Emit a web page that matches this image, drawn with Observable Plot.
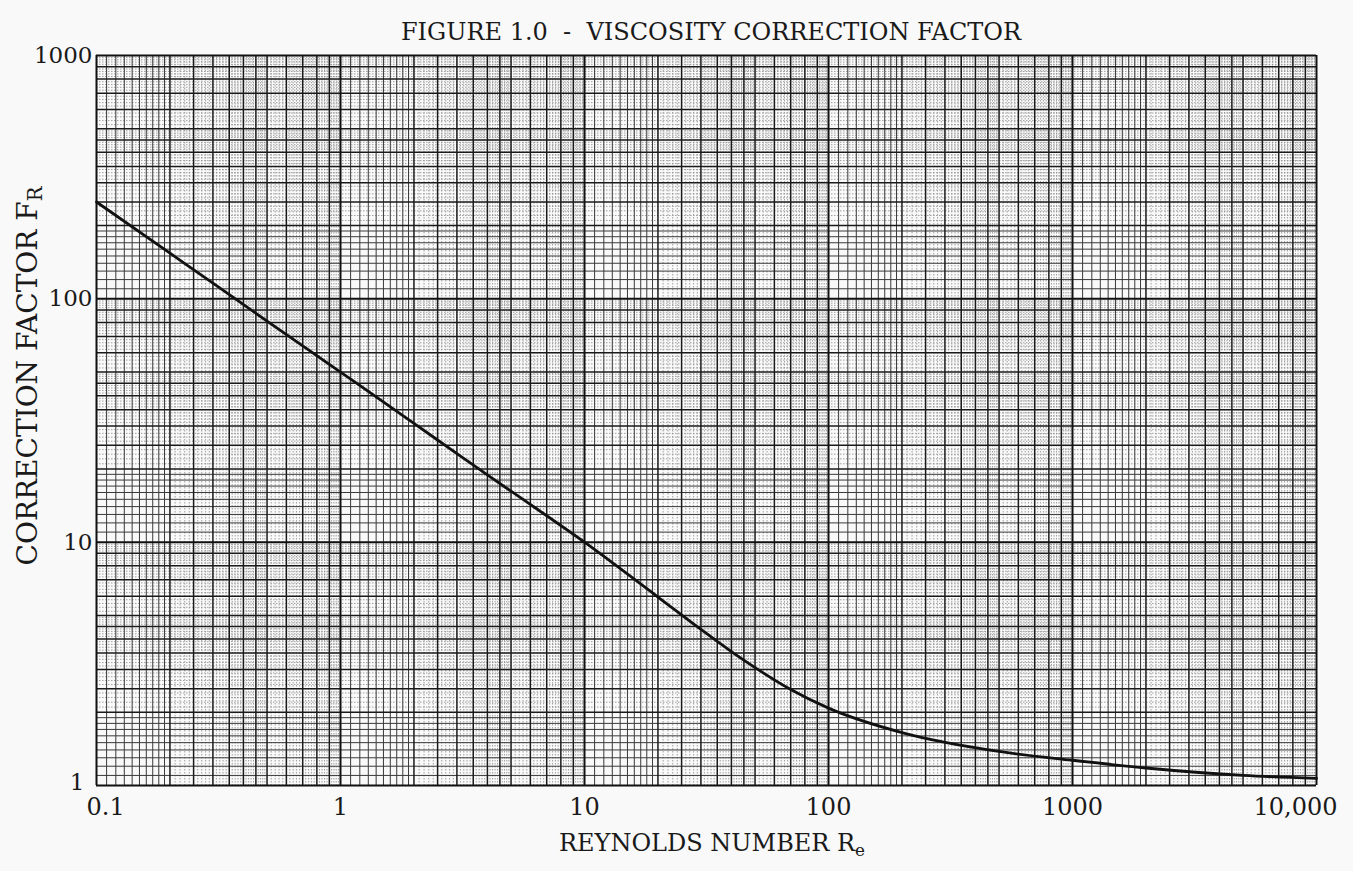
<!DOCTYPE html>
<html><head><meta charset="utf-8">
<script src="https://cdn.jsdelivr.net/npm/d3@7"></script>
<script src="https://cdn.jsdelivr.net/npm/@observablehq/plot@0.6"></script>
<style>
body{margin:0;background:#f9f9f9;}
#wrap{position:relative;width:1353px;height:871px;font-family:"DejaVu Serif",serif;color:#1a1a1a;overflow:hidden;}
#chart{position:absolute;left:0;top:0;}
#title{position:absolute;left:0;width:1422px;top:18px;text-align:center;font-size:24px;white-space:nowrap;}
#xlabel{position:absolute;left:712px;top:843px;transform:translate(-50%,-50%);font-size:24px;white-space:nowrap;}
#ylabel{position:absolute;left:27px;top:376px;transform:translate(-50%,-50%) rotate(-90deg);font-size:28px;white-space:nowrap;}
sub{font-size:70%;vertical-align:-0.3em;line-height:0;}
</style></head>
<body>
<div id="wrap">
  <div id="chart"></div>
  <div id="title">FIGURE 1.0&nbsp; - &nbsp;VISCOSITY CORRECTION FACTOR</div>
  <div id="xlabel">REYNOLDS NUMBER R<sub>e</sub></div>
  <div id="ylabel">CORRECTION FACTOR F<sub>R</sub></div>
</div>
<script>
// Curve data (Reynolds number vs correction factor)
const reynolds = [0.1, 0.2, 0.3, 0.5, 1, 2, 3, 5, 10, 20, 30, 40, 50, 70, 100, 200, 500, 1000, 2000, 5000, 10000];
const factor   = [250, 154, 116, 81, 50, 30.8, 23.1, 16.2, 10, 5.95, 4.38, 3.55, 3.05, 2.48, 2.08, 1.65, 1.38, 1.27, 1.18, 1.1, 1.07];

// Axis ticks and labels
const xTicks = [0.1, 1, 10, 100, 1000, 10000];
const xTickLabels = ["0.1", "1", "10", "100", "1000", "10,000"];
const yTicks = [1, 10, 100, 1000];
const yTickLabels = ["1", "10", "100", "1000"];

// Log-paper grid: decade starts and multipliers inside a decade
const xDecades = [0.1, 1, 10, 100, 1000];
const yDecades = [1, 10, 100];
const darkMult = [2, 2.5, 3, 3.5, 4, 4.5, 5, 6, 7, 8, 9];
const midMult = [1.1, 1.2, 1.3, 1.4, 1.5, 1.6, 1.7, 1.8, 1.9];
const fineMult = [2.1, 2.2, 2.3, 2.4, 2.6, 2.7, 2.8, 2.9, 3.1, 3.2, 3.3, 3.4, 3.6, 3.7, 3.8, 3.9,
                  4.1, 4.2, 4.3, 4.4, 4.6, 4.7, 4.8, 4.9, 5.2, 5.4, 5.6, 5.8, 6.2, 6.4, 6.6, 6.8,
                  7.2, 7.4, 7.6, 7.8, 8.2, 8.4, 8.6, 8.8, 9.2, 9.4, 9.6, 9.8];

const data = reynolds.map((r, i) => ({re: r, fr: factor[i]}));
const expand = (decs, mult) => decs.flatMap(d => mult.map(m => d * m));
const xLabelMap = new Map(xTicks.map((t, i) => [t, xTickLabels[i]]));
const yLabelMap = new Map(yTicks.map((t, i) => [t, yTickLabels[i]]));
const xFmt = d => xLabelMap.get(d);
const yFmt = d => yLabelMap.get(d);

const chart = Plot.plot({
  width: 1353,
  height: 871,
  marginTop: 55,
  marginBottom: 86,
  marginLeft: 96,
  marginRight: 37,
  style: {fontFamily: "DejaVu Serif, serif", fontSize: "23px", background: "transparent", color: "#1a1a1a"},
  x: {type: "log", domain: [0.1, 10000]},
  y: {type: "log", domain: [1, 1000]},
  marks: [
    Plot.ruleX(expand(xDecades, fineMult), {stroke: "#8a8a8a", strokeWidth: 0.8, strokeDasharray: "1.5,1.5"}),
    Plot.ruleY(expand(yDecades, fineMult), {stroke: "#8a8a8a", strokeWidth: 0.8, strokeDasharray: "1.5,1.5"}),
    Plot.ruleX(expand(xDecades, midMult), {stroke: "#3a3a3a", strokeWidth: 1}),
    Plot.ruleY(expand(yDecades, midMult), {stroke: "#3a3a3a", strokeWidth: 1}),
    Plot.ruleX(expand(xDecades, darkMult), {stroke: "#1a1a1a", strokeWidth: 1.5}),
    Plot.ruleY(expand(yDecades, darkMult), {stroke: "#1a1a1a", strokeWidth: 1.5}),
    Plot.ruleX(xTicks, {stroke: "#111", strokeWidth: 2}),
    Plot.ruleY(yTicks, {stroke: "#111", strokeWidth: 2}),
    Plot.line(data, {x: "re", y: "fr", curve: "monotone-x", stroke: "#111", strokeWidth: 2.8}),
    Plot.axisX([0.1], {label: null, tickSize: 0, tickPadding: 12, tickFormat: xFmt, fontSize: 24, textAnchor: "start", dx: -10}),
    Plot.axisX([1, 10, 100, 1000], {label: null, tickSize: 0, tickPadding: 12, tickFormat: xFmt, fontSize: 24}),
    Plot.axisX([10000], {label: null, tickSize: 0, tickPadding: 12, tickFormat: xFmt, fontSize: 24, textAnchor: "end", dx: 21}),
    Plot.axisY([1], {label: null, tickSize: 0, tickPadding: 4, tickFormat: yFmt, fontSize: 23, dx: -8, dy: -3}),
    Plot.axisY([10, 100, 1000], {label: null, tickSize: 0, tickPadding: 4, tickFormat: yFmt, fontSize: 23})
  ]
});
document.getElementById("chart").appendChild(chart);
</script>
</body></html>
